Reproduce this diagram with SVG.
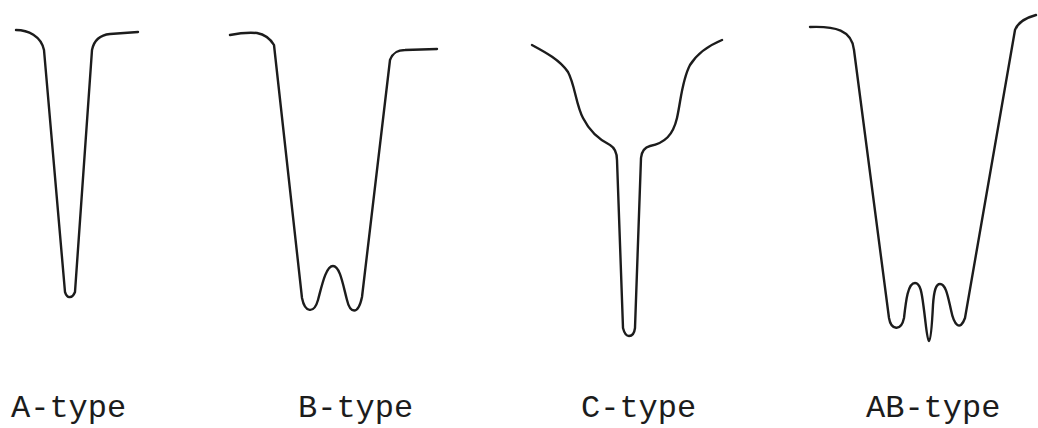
<svg xmlns="http://www.w3.org/2000/svg" width="1038" height="428" viewBox="0 0 1038 428">
<style>
.curve{fill:none;stroke:#1c1c1c;stroke-width:2.4;stroke-linecap:round;stroke-linejoin:round}
.lbl{font-family:"Liberation Mono","Courier New",monospace;font-size:32px;fill:#1c1c1c}
</style>
<rect width="1038" height="428" fill="#ffffff"/>
<g id="a-type">
<path class="curve" d="M16,30 C28,30 41,36 44,50 L65,292 Q67,298 70,297 Q73,297 75,292 L92,50 C94,40 100,35 110,34 L138,32"/>
<text class="lbl" x="11" y="417">A-type</text>
</g>
<g id="b-type">
<path class="curve" d="M230,35 Q245,32 257,33 Q268,35 274,45 L302,298 C305,313 314,314 318,300 C322,285 326,266 333,266 C340,266 343,285 347,300 C350,313 358,316 362,297 L390,60 C393,52 398,50 405,50 L437,49"/>
<text class="lbl" x="298" y="417">B-type</text>
</g>
<g id="c-type">
<path class="curve" d="M532,45 C545,52 560,60 568,72 C575,85 576,105 583,118 C590,132 600,140 610,145 C615,148 617,152 617,160 L623,328 Q625,336 629,336 Q634,336 635,328 L641,158 Q642,148 650,146 C665,143 673,135 677,118 C681,100 682,80 690,65 C698,52 710,45 722,40"/>
<text class="lbl" x="581" y="417">C-type</text>
</g>
<g id="ab-type">
<path class="curve" d="M810,27 C835,26 852,30 854,50 L889,318 C891,330 901,332 904,318 C906,300 908,283 915,283 C921,283 922,295 924,310 C926,325 927,340 929,341 C931,340 932,325 933,305 C934,290 936,284 940,284 C946,284 948,297 951,310 C954,325 960,332 965,318 L1015,30 C1018,22 1025,18 1036,15"/>
<text class="lbl" x="866" y="417">AB-type</text>
</g>
<g id="connectors"></g>
</svg>
